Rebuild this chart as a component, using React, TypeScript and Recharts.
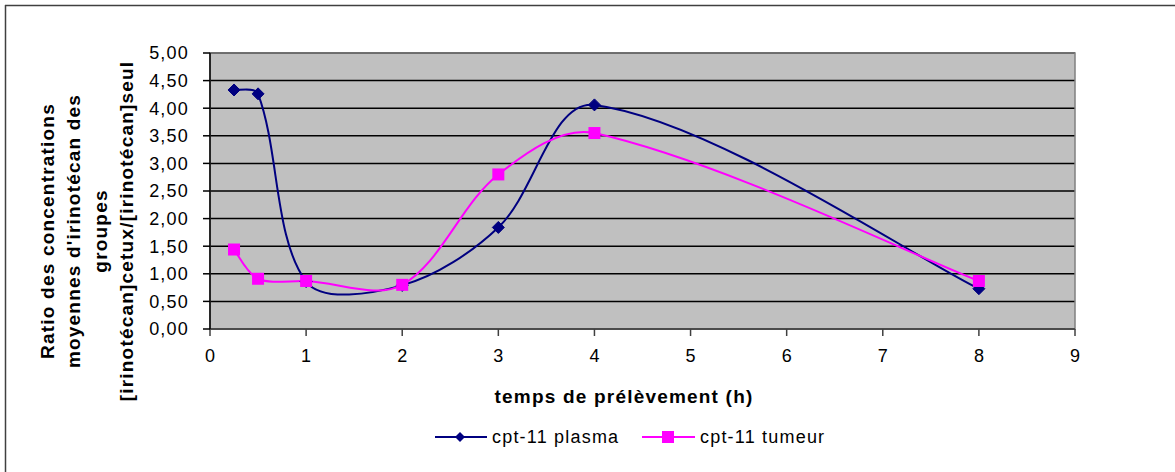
import React from "react";
import {
  LineChart,
  Line,
  XAxis,
  YAxis,
  CartesianGrid,
  ReferenceArea,
} from "recharts";

const times = [0.25, 0.5, 1, 2, 3, 4, 8];
const plasma = [4.33, 4.26, 0.86, 0.79, 1.84, 4.06, 0.73];
const tumeur = [1.44, 0.91, 0.87, 0.8, 2.8, 3.55, 0.87];
const xTicks = [0, 1, 2, 3, 4, 5, 6, 7, 8, 9];
const yTicks = [0, 0.5, 1, 1.5, 2, 2.5, 3, 3.5, 4, 4.5, 5];
const yTitleLines = [
  "Ratio des  concentrations",
  "moyennes d'irinotécan des",
  "groupes",
  "[irinotécan]cetux/[irinotécan]seul",
];
const xTitle = "temps de prélèvement (h)";
const seriesNames = ["cpt-11 plasma", "cpt-11 tumeur"];

const data = times.map((t, i) => ({ t, plasma: plasma[i], tumeur: tumeur[i] }));

const PLASMA = "#000080";
const TUMEUR = "#FF00FF";
const FONT = "'Liberation Sans', Arial, sans-serif";

// Excel-like smoothing (Bezier with tangents weighted by segment lengths)
function excelSmooth(context: any) {
  let pts: [number, number][] = [];
  const dist = (a: [number, number], b: [number, number]) =>
    Math.hypot(b[0] - a[0], b[1] - a[1]);
  return {
    areaStart() {},
    areaEnd() {},
    lineStart() {
      pts = [];
    },
    point(x: number, y: number) {
      pts.push([+x, +y]);
    },
    lineEnd() {
      const n = pts.length;
      if (n === 0) return;
      context.moveTo(pts[0][0], pts[0][1]);
      if (n === 1) return;
      for (let i = 0; i < n - 1; i++) {
        const p0 = pts[Math.max(i - 1, 0)];
        const p1 = pts[i];
        const p2 = pts[i + 1];
        const p3 = pts[Math.min(i + 2, n - 1)];
        const l01 = dist(p0, p1);
        const l12 = dist(p1, p2);
        const l23 = dist(p2, p3);
        const f1 = l01 + l12 > 0 ? (l12 / (l01 + l12)) / 3 : 0;
        const f2 = l12 + l23 > 0 ? (l12 / (l12 + l23)) / 3 : 0;
        const a1 = i === 0 ? 1 / 3 : f1;
        const a2 = i + 2 > n - 1 ? 1 / 3 : f2;
        const c1x = p1[0] + (p2[0] - p0[0]) * (i === 0 ? 1 / 6 : a1);
        const c1y = p1[1] + (p2[1] - p0[1]) * (i === 0 ? 1 / 6 : a1);
        const c2x = p2[0] - (p3[0] - p1[0]) * (i + 2 > n - 1 ? 1 / 6 : a2);
        const c2y = p2[1] - (p3[1] - p1[1]) * (i + 2 > n - 1 ? 1 / 6 : a2);
        context.bezierCurveTo(c1x, c1y, c2x, c2y, p2[0], p2[1]);
      }
    },
  };
}

const Diamond = (props: any) => {
  const { cx, cy, index } = props;
  if (cx == null || cy == null) return <g key={`d${index}`} />;
  const r = 6;
  return (
    <path
      key={`d${index}`}
      d={`M${cx},${cy - r}L${cx + r},${cy}L${cx},${cy + r}L${cx - r},${cy}Z`}
      fill={PLASMA}
      stroke={PLASMA}
    />
  );
};

const Square = (props: any) => {
  const { cx, cy, index } = props;
  if (cx == null || cy == null) return <g key={`s${index}`} />;
  const r = 6;
  return <rect key={`s${index}`} x={cx - r} y={cy - r} width={2 * r} height={2 * r} fill={TUMEUR} />;
};

const fmt = (v: number) => v.toFixed(2).replace(".", ",");

export default function App() {
  return (
    <div style={{ position: "absolute", left: 0, top: 0, width: 1175, height: 472, background: "#fff" }}>
      <svg
        width={1175}
        height={472}
        style={{ position: "absolute", left: 0, top: 0 }}
      >
        <line x1={5.5} y1={5} x2={5.5} y2={472} stroke="#404040" strokeWidth={1.5} />
        <line x1={5} y1={5.5} x2={1175} y2={5.5} stroke="#404040" strokeWidth={1.5} />
        <g transform="translate(87,231) rotate(-90)" fontFamily={FONT} fontWeight="bold" fontSize={19} letterSpacing={1.2} fill="#000">
          {yTitleLines.map((l, i) => (
            <text key={i} x={0} y={(i - 1.5) * 26.3} textAnchor="middle" dominantBaseline="central">
              {l}
            </text>
          ))}
        </g>
        <text x={624} y={396} textAnchor="middle" dominantBaseline="central" fontFamily={FONT} fontWeight="bold" fontSize={19} letterSpacing={1.2} fill="#000">
          {xTitle}
        </text>
        <g fontFamily={FONT} fontSize={18} letterSpacing={1.2} fill="#000">
          <line x1={435} y1={437} x2={487} y2={437} stroke={PLASMA} strokeWidth={2} />
          <path d="M460,432L465,437L460,442L455,437Z" fill={PLASMA} />
          <text x={492} y={437} dominantBaseline="central">{seriesNames[0]}</text>
          <line x1={642} y1={437} x2={695} y2={437} stroke={TUMEUR} strokeWidth={2} />
          <rect x={662} y={431} width={12} height={12} fill={TUMEUR} />
          <text x={700} y={437} dominantBaseline="central">{seriesNames[1]}</text>
        </g>
      </svg>
      <div style={{ position: "absolute", left: 0, top: 0 }}>
        <LineChart
          width={1175}
          height={472}
          data={data}
          margin={{ top: 53, right: 100, left: 150, bottom: 113 }}
        >
          <CartesianGrid
            vertical={false}
            stroke="#000"
            strokeWidth={1.5}
            fill="#C0C0C0"
            fillOpacity={1}
          />
          <ReferenceArea x1={0} x2={9} y1={0} y2={5} fill="none" stroke="#808080" strokeWidth={1.5} ifOverflow="visible" />
          <XAxis
            dataKey="t"
            type="number"
            domain={[0, 9]}
            ticks={xTicks}
            height={30}
            tickSize={7}
            tickMargin={13}
            stroke="#404040"
            strokeWidth={1.5}
            tick={{ fill: "#000", fontSize: 18, fontFamily: FONT }}
            interval={0}
          />
          <YAxis
            type="number"
            domain={[0, 5]}
            ticks={yTicks}
            width={60}
            tickSize={7}
            tickMargin={14}
            stroke="#000"
            strokeWidth={1.5}
            tickFormatter={fmt}
            tick={{ fill: "#000", fontSize: 18, fontFamily: FONT, letterSpacing: 1.2 }}
            interval={0}
          />
          <Line
            dataKey="plasma"
            type={excelSmooth as any}
            stroke={PLASMA}
            strokeWidth={2}
            dot={Diamond}
            activeDot={false}
            isAnimationActive={false}
          />
          <Line
            dataKey="tumeur"
            type={excelSmooth as any}
            stroke={TUMEUR}
            strokeWidth={2}
            dot={Square}
            activeDot={false}
            isAnimationActive={false}
          />
        </LineChart>
      </div>
    </div>
  );
}
